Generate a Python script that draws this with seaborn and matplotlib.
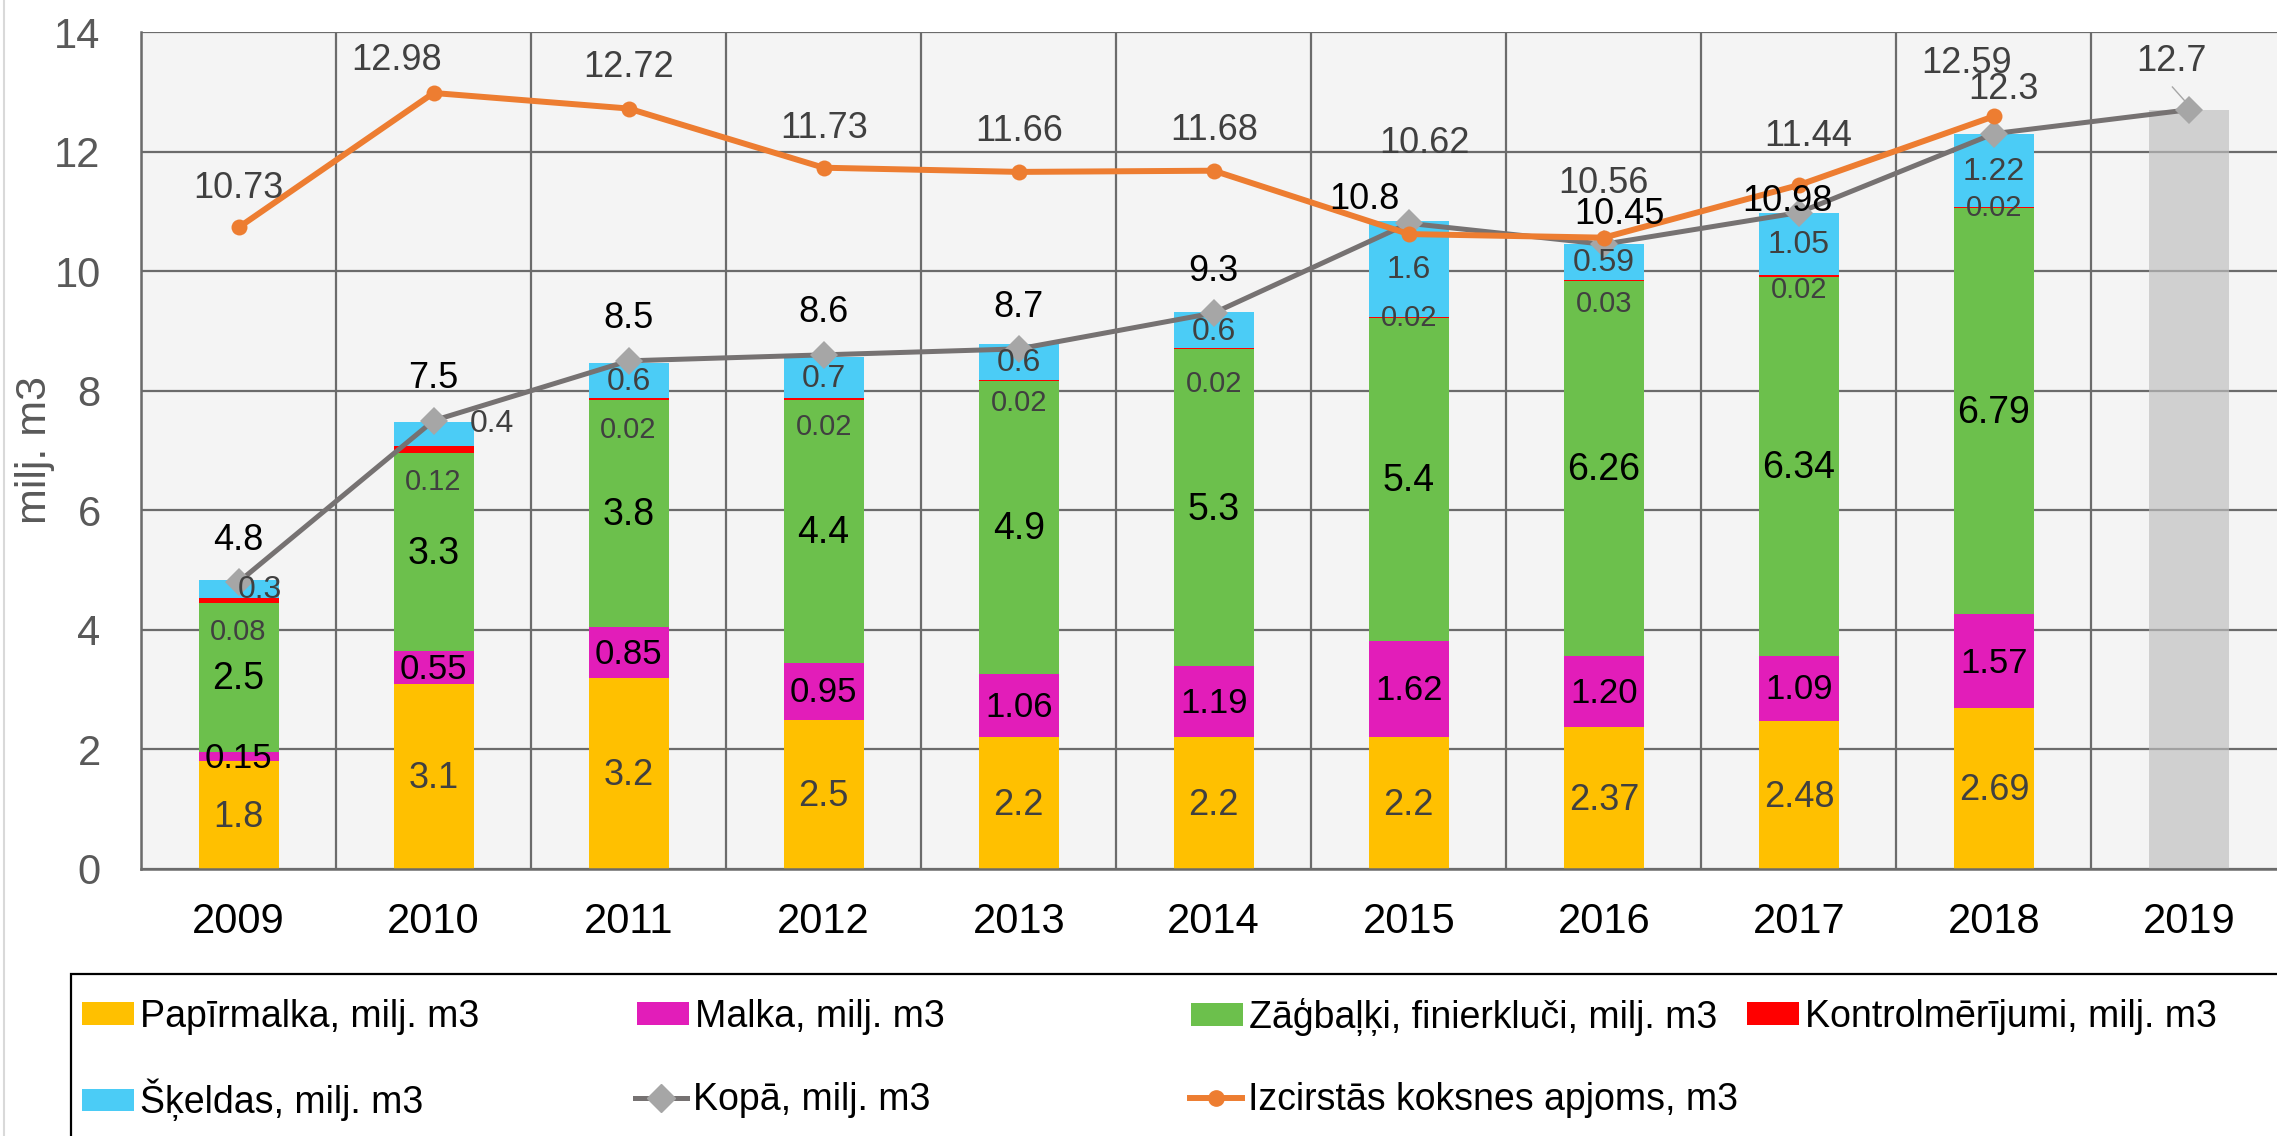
import numpy as np
import matplotlib
matplotlib.use("Agg")
import matplotlib.pyplot as plt
import seaborn as sns
from matplotlib.lines import Line2D
from matplotlib.patches import Patch, Rectangle

# ---------------- data ----------------
years = ["2009", "2010", "2011", "2012", "2013", "2014", "2015", "2016", "2017", "2018", "2019"]
papirmalka = [1.8, 3.1, 3.2, 2.5, 2.2, 2.2, 2.2, 2.37, 2.48, 2.69]
malka = [0.15, 0.55, 0.85, 0.95, 1.06, 1.19, 1.62, 1.20, 1.09, 1.57]
zagbalki = [2.5, 3.3, 3.8, 4.4, 4.9, 5.3, 5.4, 6.26, 6.34, 6.79]
kontrol = [0.08, 0.12, 0.02, 0.02, 0.02, 0.02, 0.02, 0.03, 0.02, 0.02]
skeldas = [0.3, 0.4, 0.6, 0.7, 0.6, 0.6, 1.6, 0.59, 1.05, 1.22]
kopa = [4.8, 7.5, 8.5, 8.6, 8.7, 9.3, 10.8, 10.45, 10.98, 12.3, 12.7]
izcirstas = [10.73, 12.98, 12.72, 11.73, 11.66, 11.68, 10.62, 10.56, 11.44, 12.59]
kopa_2019_year = ["2019"]
kopa_2019_bar = [12.7]

series_names = ["Papīrmalka, milj. m3", "Malka, milj. m3", "Zāģbaļķi, finierkluči, milj. m3",
                "Kontrolmērījumi, milj. m3", "Šķeldas, milj. m3"]
kopa_name = "Kopā, milj. m3"
izc_name = "Izcirstās koksnes apjoms, m3"

# ---------------- style ----------------
c_yellow = "#FFC000"
c_magenta = "#E21DB9"
c_green = "#6CC04C"
c_red = "#FF0000"
c_blue = "#4BCCF6"
c_kopa_line = "#767272"
c_kopa_mark = "#A6A6A6"
c_orange = "#ED7D31"
c_grid = "#6B6B6B"
c_dark = "#404040"
seg_colors = [c_yellow, c_magenta, c_green, c_red, c_blue]

plt.rcParams['font.family'] = ['Liberation Sans', 'DejaVu Sans']

W, H = 2277, 1136
fig = plt.figure(figsize=(W / 100, H / 100), dpi=100)
fig.patch.set_facecolor("white")
ax = fig.add_axes([141 / W, 1 - 869 / H, (2286.5 - 141) / W, (869 - 32) / H])
ax.set_facecolor("#F4F4F4")

# stacked bars (cumulative, drawn top-down so lower segments overlay)
stack = np.vstack([papirmalka, malka, zagbalki, kontrol, skeldas])
cum = stack.cumsum(axis=0)
bar_years = years[:len(papirmalka)]
for k in range(len(seg_colors) - 1, -1, -1):
    sns.barplot(x=bar_years, y=cum[k], order=years, color=seg_colors[k], width=0.41,
                saturation=1, linewidth=0, ax=ax, zorder=2)
# 2019 grey bar
sns.barplot(x=kopa_2019_year, y=kopa_2019_bar, order=years, color="#BEBEBE", alpha=0.66,
            width=0.41, saturation=1, linewidth=0, ax=ax, zorder=2.5)

# lines
pos_k = np.arange(len(kopa))
pos_i = np.arange(len(izcirstas))
sns.lineplot(x=pos_k, y=kopa, sort=False, color=c_kopa_line, linewidth=3.6, marker="D",
             markersize=14, markerfacecolor=c_kopa_mark, markeredgecolor=c_kopa_mark,
             markeredgewidth=0, ax=ax, zorder=4)
sns.lineplot(x=pos_i, y=izcirstas, sort=False, color=c_orange, linewidth=4.3, marker="o",
             markersize=11.5, markerfacecolor=c_orange, markeredgecolor=c_orange,
             markeredgewidth=0, ax=ax, zorder=5)

# axes
ax.set_xlim(-0.5, len(years) - 0.5)
ax.set_ylim(0, 14)
ax.set_yticks(np.arange(0, 15, 2))
ax.set_xticks(range(len(years)))
ax.set_xticklabels(years)
ax.set_xlabel("")
ax.set_ylabel("")
ax.tick_params(axis="x", length=0, pad=24, labelsize=30, labelcolor="black")
ax.tick_params(axis="y", length=0, pad=29, labelsize=30, labelcolor="#595959")
ax.set_axisbelow(True)
ax.yaxis.grid(True, color=c_grid, linewidth=1.6)
ax.xaxis.grid(False)
for b in np.arange(-0.5, len(years), 1.0):
    ax.axvline(b, color=c_grid, linewidth=1.6, zorder=0.6)
for s in ["top", "right"]:
    ax.spines[s].set_visible(False)
for s in ["left", "bottom"]:
    ax.spines[s].set_color(c_grid)
    ax.spines[s].set_linewidth(1.8)

fig.text(35 / W, 1 - 450 / H, "milj. m3", rotation=90, ha="center", va="center",
         fontsize=31, color="#595959")

# ---------------- data labels ----------------
def lbl(x, y, s, size, color):
    ax.text(x, y, s, ha="center", va="center", fontsize=size, color=color, zorder=7)

n = len(papirmalka)
bottoms = np.vstack([np.zeros(n), cum[:-1]])
centers = bottoms + stack / 2

kontrol_dy = [-0.53, -0.54, -0.52, -0.47, -0.38, -0.58, -0.02, -0.40, -0.24, -0.01]
skeldas_dx = [0.11, 0.30, 0, 0, 0, 0, 0, 0, 0, 0]
skeldas_dy = [0, 0.19, 0, 0, 0, 0, 0, 0, 0, 0]
kopa_dy = [0.69, 0.70, 0.71, 0.71, 0.70, 0.70, 0.39, 0.49, 0.18, 0.73, 0.80]
kopa_dx = [0, 0, 0, 0, 0, 0, -0.23, 0.08, -0.06, 0.05, -0.09]
kopa_col = ["black"] * 9 + [c_dark, c_dark]
izc_dy = [0.66, 0.55, 0.68, 0.66, 0.67, 0.67, 1.51, 0.91, 0.81, 0.88]
izc_dx = [0, -0.19, 0, 0, 0, 0, 0.08, 0, 0.05, -0.14]

for i in range(n):
    lbl(i, centers[0, i] - 0.04, f"{papirmalka[i]:g}", 26, c_dark)
    lbl(i, centers[1, i] - 0.03, f"{malka[i]:.2f}", 25, "black")
    lbl(i, centers[2, i] - 0.03, f"{zagbalki[i]:g}", 27, "black")
    lbl(i, centers[3, i] + kontrol_dy[i], f"{kontrol[i]:g}", 21, c_dark)
    lbl(i + skeldas_dx[i], centers[4, i] + skeldas_dy[i] - 0.02, f"{skeldas[i]:g}", 23, c_dark)
for i in range(len(kopa)):
    lbl(i + kopa_dx[i], kopa[i] + kopa_dy[i], f"{kopa[i]:g}", 26, kopa_col[i])
for i in range(len(izcirstas)):
    lbl(i + izc_dx[i], izcirstas[i] + izc_dy[i], f"{izcirstas[i]:g}", 26, c_dark)
# leader line for 2019 label
ax.plot([len(kopa) - 1 - 0.085, len(kopa) - 1 - 0.003], [kopa[-1] + 0.38, kopa[-1] + 0.08],
        color="#A6A6A6", linewidth=1, zorder=6)

# ---------------- legend ----------------
handles = [Patch(facecolor=c) for c in seg_colors]
h_kopa = Line2D([], [], color=c_kopa_line, linewidth=3.6, marker="D", markersize=14,
                markerfacecolor=c_kopa_mark, markeredgecolor=c_kopa_mark)
h_izc = Line2D([], [], color=c_orange, linewidth=4.3, marker="o", markersize=11,
               markerfacecolor=c_orange, markeredgecolor=c_orange)
entries = [
    (handles[0], series_names[0], 82, 1017),
    (handles[1], series_names[1], 637, 1017),
    (handles[2], series_names[2], 1191, 1017),
    (handles[3], series_names[3], 1747, 1017),
    (handles[4], series_names[4], 82, 1100),
    (h_kopa, kopa_name, 635, 1100),
    (h_izc, izc_name, 1190, 1100),
]
for h, lab, xp, yp in entries:
    fig.legend([h], [lab], loc="center left", bbox_to_anchor=(xp / W, 1 - yp / H),
               bbox_transform=fig.transFigure, frameon=False, fontsize=27,
               handlelength=1.39, handleheight=0.56, handletextpad=0.15,
               borderpad=0, borderaxespad=0)

fig.patches.append(Rectangle((71 / W, -0.02), 1.0, (1136 - 974) / H + 0.02, fill=False,
                             edgecolor="black", linewidth=1.6, transform=fig.transFigure))
fig.lines.append(Line2D([4 / W, 4 / W], [0, 1], color="#D9D9D9", linewidth=1.5,
                        transform=fig.transFigure))

fig.savefig("out.png", dpi=100, facecolor="white")
